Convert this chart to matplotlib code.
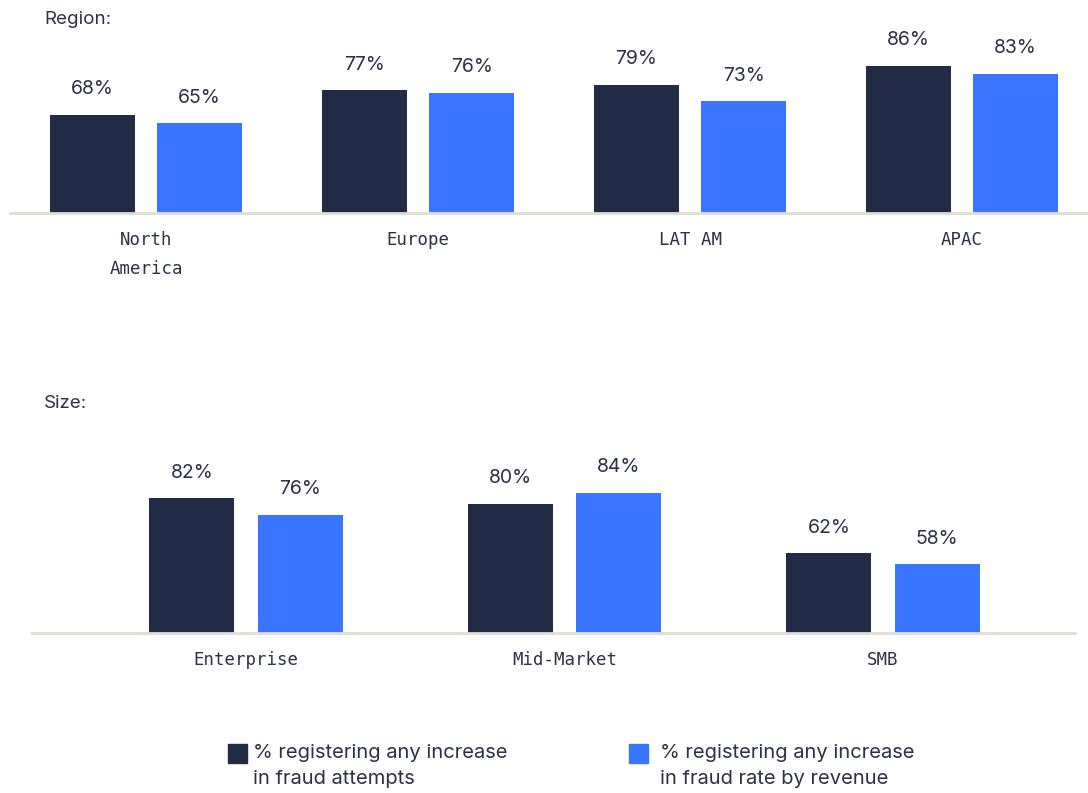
import matplotlib
matplotlib.use("Agg")
import matplotlib.pyplot as plt
from matplotlib.patches import Rectangle
import numpy as np

# ---- data ----
region_cats = ["North\nAmerica", "Europe", "LAT AM", "APAC"]
region_attempts = [68, 77, 79, 86]
region_rate = [65, 76, 73, 83]

size_cats = ["Enterprise", "Mid-Market", "SMB"]
size_attempts = [82, 80, 62]
size_rate = [76, 84, 58]

series_names = ["% registering any increase\nin fraud attempts",
                "% registering any increase\nin fraud rate by revenue"]
section_titles = ["Region:", "Size:"]

# ---- style ----
W, H = 1088, 793
DARK = "#212B45"
BLUE = "#3A75FF"
AXLINE = "#DEDED3"
TXT = "#2B3247"
SANS = ["Inter", "DejaVu Sans"]
MONO = ["DejaVu Sans Mono"]

fig = plt.figure(figsize=(W / 100, H / 100), dpi=100)
fig.patch.set_facecolor("white")


def px_axes(left, right, base_y, height):
    return fig.add_axes([left / W, (H - base_y) / H, (right - left) / W, height / H])


def draw(ax, cats, a, b, width, offset, xlim, ylim):
    x = np.arange(len(cats))
    bars_a = ax.bar(x - offset, a, width, bottom=0, color=DARK)
    bars_b = ax.bar(x + offset, b, width, bottom=0, color=BLUE)
    ax.set_xlim(*xlim)
    ax.set_ylim(*ylim)
    for bars in (bars_a, bars_b):
        for r in bars:
            v = r.get_height()
            ax.annotate(f"{v:.0f}%", (r.get_x() + r.get_width() / 2, v),
                        xytext=(0, 18.5), textcoords="offset points",
                        ha="center", va="center", fontsize=14,
                        color=TXT, family=SANS)
    for s in ("top", "right", "left"):
        ax.spines[s].set_visible(False)
    ax.spines["bottom"].set_color(AXLINE)
    ax.spines["bottom"].set_linewidth(2)
    ax.set_yticks([])
    ax.set_xticks(x)
    ax.set_xticklabels(cats, family=MONO, fontsize=12.5, color=TXT,
                       linespacing=1.75)
    ax.tick_params(axis="x", length=0, pad=13)
    ax.patch.set_visible(False)


# top: Region
ax1 = px_axes(10, 1088, 213, 186)
draw(ax1, region_cats, region_attempts, region_rate,
     width=0.3125, offset=0.197, xlim=(-0.5, 3.463), ylim=(32.5, 100))

# bottom: Size
ax2 = px_axes(32, 1075, 633, 184)
draw(ax2, size_cats, size_attempts, size_rate,
     width=0.267, offset=0.17, xlim=(-0.672, 2.603), ylim=(33, 100))

# section titles
fig.text(44 / W, 1 - 19 / H, section_titles[0], fontsize=13.5, color=TXT,
         family=SANS, va="center", ha="left")
fig.text(44 / W, 1 - 403 / H, section_titles[1], fontsize=13.5, color=TXT,
         family=SANS, va="center", ha="left")

# legend
for (sx, tx), col, name in zip([(228, 253), (629, 660)], [DARK, BLUE], series_names):
    fig.patches.append(Rectangle((sx / W, 1 - 763 / H), 19 / W, 19 / H,
                                 transform=fig.transFigure, color=col))
    fig.text(tx / W, 1 - 744 / H, name, fontsize=14.5, color=TXT, family=SANS,
             va="top", ha="left", linespacing=1.55)

fig.savefig("out.png", dpi=100, facecolor="white")
